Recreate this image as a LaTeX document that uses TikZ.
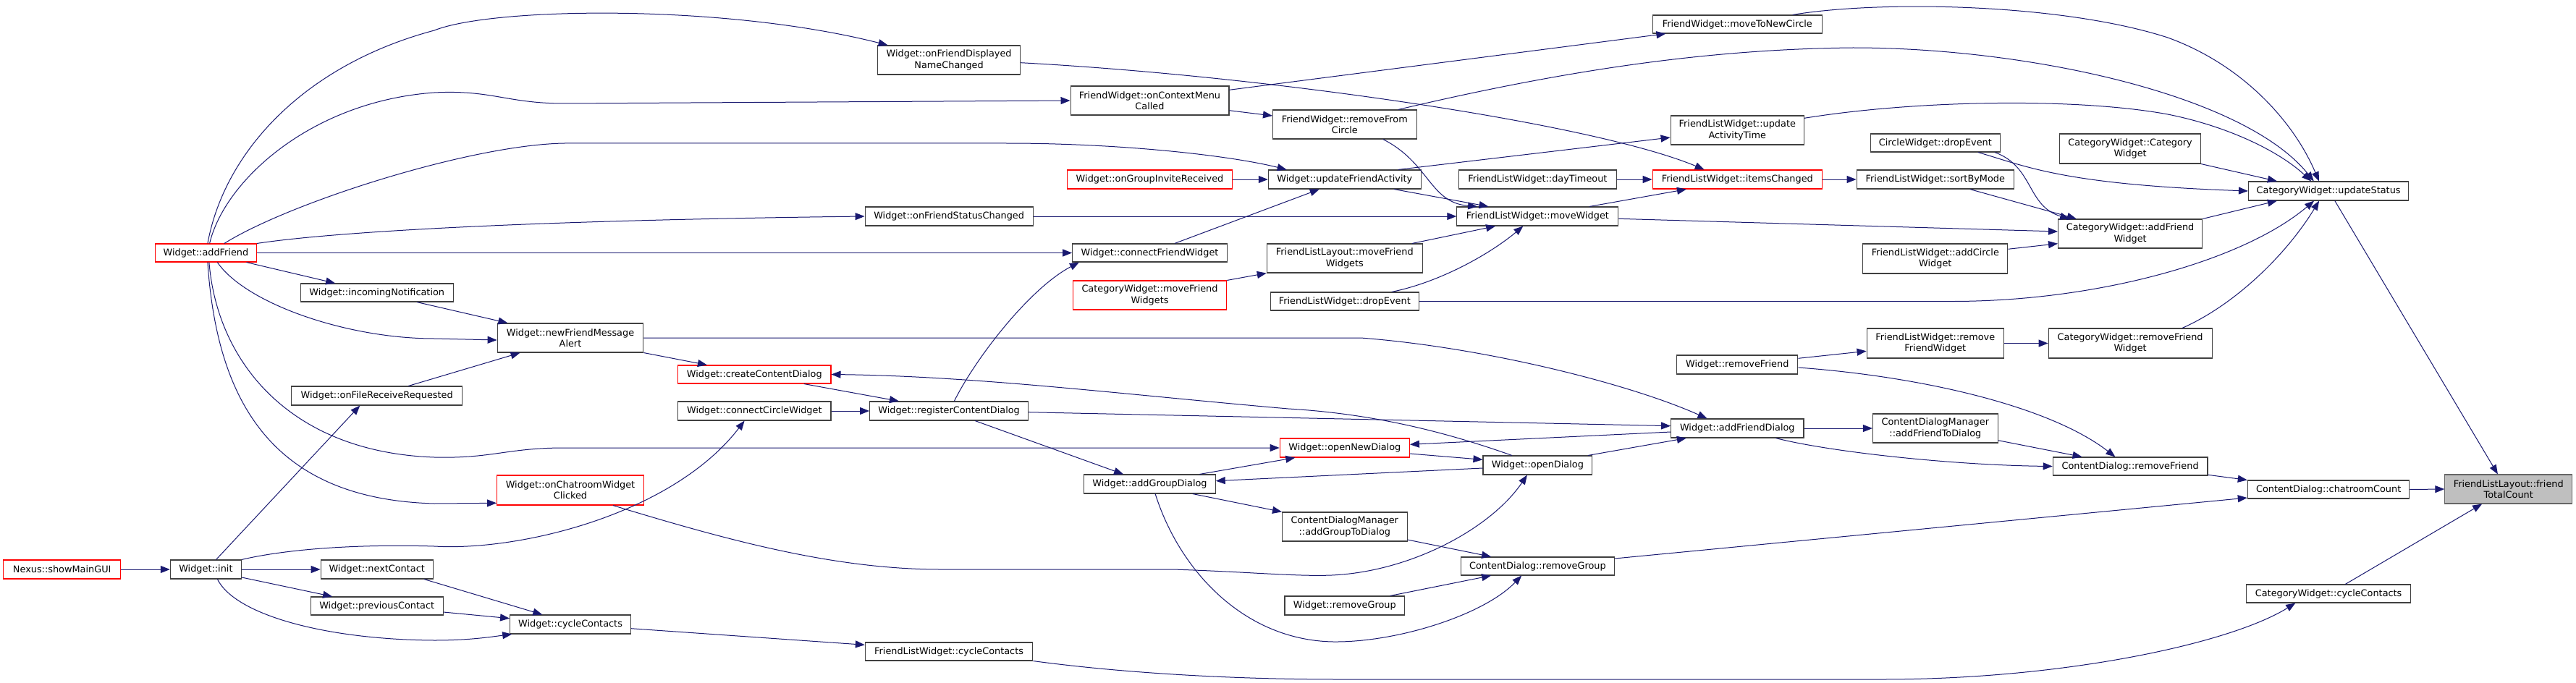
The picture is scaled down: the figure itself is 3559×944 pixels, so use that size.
\documentclass[tikz,border=0pt]{standalone}
\usepackage{fontspec}
\setmainfont{DejaVu Sans}
\usetikzlibrary{arrows.meta}
\definecolor{edgeblue}{HTML}{191970}
\definecolor{boxgray}{HTML}{404040}
\definecolor{rootborder}{HTML}{666666}
\definecolor{rootfill}{HTML}{BFBFBF}
\newcommand\nodefont{\fontsize{12.85pt}{15.3pt}\selectfont}
\begin{document}
\begin{tikzpicture}[x=1pt,y=-1pt,
  nd/.style 2 args={draw=boxgray, line width=1.1pt, fill=white, rectangle, minimum width=#1pt, minimum height=#2pt, inner sep=0pt, align=center, font=\nodefont, text=black},
  hot/.style={draw=red},
  root/.style={draw=rootborder, fill=rootfill},
  e/.style={draw=edgeblue, line width=1pt, -{Triangle[length=13pt,width=10pt]}}]
\fill[white] (0,0) rectangle (3559,944);
\useasboundingbox (0,0) rectangle (3559,944);

% ---- nodes ----
\node[nd={162.2}{26},hot] (smg) at (85.7,787) {Nexus::showMainGUI};
\node[nd={98}{26}] (init) at (284.4,787) {Widget::init};
\node[nd={140.4}{25},hot] (af) at (284.4,349.5) {Widget::addFriend};
\node[nd={210.8}{25}] (inc) at (520.7,404.5) {Widget::incomingNotification};
\node[nd={236.4}{26}] (ofr) at (520.7,547) {Widget::onFileReceiveRequested};
\node[nd={155}{26}] (nc) at (520.7,787) {Widget::nextContact};
\node[nd={182.9}{25}] (pc) at (520.7,837.5) {Widget::previousContact};
\node[nd={201.7}{40}] (nfm) at (788,467) {Widget::newFriendMessage\\Alert};
\node[nd={202.8}{41},hot] (ocw) at (788,677.5) {Widget::onChatroomWidget\\Clicked};
\node[nd={166.8}{26}] (wcc) at (788,863) {Widget::cycleContacts};
\node[nd={211.3}{25},hot] (ccd) at (1042.3,517.5) {Widget::createContentDialog};
\node[nd={211.3}{26}] (ccw) at (1042.3,568) {Widget::connectCircleWidget};
\node[nd={232}{26}] (ofs) at (1311.1,299) {Widget::onFriendStatusChanged};
\node[nd={197.4}{40}] (ofd) at (1311.1,83) {Widget::onFriendDisplayed\\NameChanged};
\node[nd={218.9}{26}] (rcd) at (1311.1,568) {Widget::registerContentDialog};
\node[nd={231.5}{25}] (flc) at (1311.1,900.5) {FriendListWidget::cycleContacts};
\node[nd={218.9}{40}] (ocm) at (1588.5,139) {FriendWidget::onContextMenu\\Called};
\node[nd={228.4}{26},hot] (ogi) at (1588.5,248) {Widget::onGroupInviteReceived};
\node[nd={213.6}{25}] (cfw) at (1588.5,349.5) {Widget::connectFriendWidget};
\node[nd={212.4}{40},hot] (cmf) at (1588.5,408) {CategoryWidget::moveFriend\\Widgets};
\node[nd={181.4}{26}] (agd) at (1588.5,669) {Widget::addGroupDialog};
\node[nd={198.6}{40}] (rfc) at (1857.8,172) {FriendWidget::removeFrom\\Circle};
\node[nd={210.9}{26}] (ufa) at (1857.8,248) {Widget::updateFriendActivity};
\node[nd={215}{40}] (lmf) at (1857.8,357) {FriendListLayout::moveFriend\\Widgets};
\node[nd={205.5}{25}] (lde) at (1857.8,416.5) {FriendListWidget::dropEvent};
\node[nd={179.1}{26},hot] (ond) at (1857.8,619) {Widget::openNewDialog};
\node[nd={172.6}{40}] (agt) at (1857.8,728) {ContentDialogManager\\::addGroupToDialog};
\node[nd={165.7}{26}] (wrg) at (1857.8,837) {Widget::removeGroup};
\node[nd={217.8}{26}] (dto) at (2124.4,248) {FriendListWidget::dayTimeout};
\node[nd={223}{26}] (mw) at (2124.4,299) {FriendListWidget::moveWidget};
\node[nd={150.8}{26}] (od) at (2124.4,643) {Widget::openDialog};
\node[nd={212}{25}] (crg) at (2124.4,782.5) {ContentDialog::removeGroup};
\node[nd={233.8}{25}] (mtn) at (2400.3,33.5) {FriendWidget::moveToNewCircle};
\node[nd={184.4}{40}] (uat) at (2400.3,180) {FriendListWidget::update\\ActivityTime};
\node[nd={234.2}{26},hot] (ic) at (2400.3,248) {FriendListWidget::itemsChanged};
\node[nd={167.2}{26}] (wrf) at (2400.3,504) {Widget::removeFriend};
\node[nd={183.3}{26}] (afd) at (2400.3,592) {Widget::addFriendDialog};
\node[nd={178.7}{25}] (cde) at (2673.8,197.5) {CircleWidget::dropEvent};
\node[nd={217.4}{26}] (sbm) at (2673.8,248) {FriendListWidget::sortByMode};
\node[nd={200.2}{41}] (acw) at (2673.8,357.5) {FriendListWidget::addCircle\\Widget};
\node[nd={189.4}{41}] (lrf) at (2673.8,474.5) {FriendListWidget::remove\\FriendWidget};
\node[nd={172.6}{40}] (aft) at (2673.8,592) {ContentDialogManager\\::addFriendToDialog};
\node[nd={194.6}{41}] (cwc) at (2943.1,205.5) {CategoryWidget::Category\\Widget};
\node[nd={199.1}{40}] (caf) at (2943.1,323) {CategoryWidget::addFriend\\Widget};
\node[nd={225.9}{41}] (crf) at (2943.1,474.5) {CategoryWidget::removeFriend\\Widget};
\node[nd={213.7}{25}] (cdf) at (2943.1,644.5) {ContentDialog::removeFriend};
\node[nd={221.3}{26}] (us) at (3217.1,264) {CategoryWidget::updateStatus};
\node[nd={223.6}{25}] (crc) at (3217.1,676.5) {ContentDialog::chatroomCount};
\node[nd={227.1}{25}] (ccy) at (3217.1,820.5) {CategoryWidget::cycleContacts};
\node[nd={175.7}{40},root] (ftc) at (3465.7,676) {FriendListLayout::friend\\TotalCount};

% ---- edges ----
\draw[e] (smg.east) -- (init.west);
\draw[e] ([xshift=14.2pt]init.north) -- ([xshift=-23.4pt]ofr.south);
\draw[e] (init.east) -- (nc.west);
\draw[e] ([yshift=-11pt]init.east) -- ([xshift=-61.6pt]pc.north);
\draw[e] ([xshift=16pt]init.south) .. controls (325,850) and (450,884) .. (600,885) .. controls (650,885) and (680,880) .. ([xshift=-80.8pt]wcc.south);
\draw[e] (init.north east) .. controls (400,758) and (500,752) .. (600,755) .. controls (720,762) and (930,710) .. ([xshift=-13.7pt]ccw.south);
\draw[e] ([xshift=2.5pt]af.north) .. controls (310,210) and (420,90) .. (600,42) .. controls (680,10) and (1000,5) .. ([xshift=-84.5pt]ofd.north);
\draw[e] ([xshift=5.2pt]af.north) .. controls (310,250) and (430,140) .. (600,128) .. controls (680,124) and (700,143) .. (780,143) -- (ocm.west);
\draw[e] ([xshift=25.5pt]af.north) .. controls (400,280) and (650,200) .. (780,198) -- (1390,198) .. controls (1550,198) and (1700,215) .. ([xshift=-80.2pt]ufa.north);
\draw[e] (af.north east) .. controls (450,322) and (700,305) .. (ofs.west);
\draw[e] (af.east) -- (cfw.west);
\draw[e] ([xshift=56.1pt]af.south) -- ([xshift=-57.6pt]inc.north);
\draw[e] ([xshift=15.9pt]af.south) .. controls (340,420) and (480,468) .. (600,468) -- ([yshift=-3pt]nfm.west);
\draw[e] ([xshift=2.5pt]af.south) .. controls (300,560) and (380,690) .. (600,696) -- ([yshift=-17.8pt]ocw.west);
\draw[e] ([xshift=4.5pt]af.south) .. controls (300,500) and (400,625) .. (600,632) .. controls (680,634) and (700,619) .. (780,619) -- (ond.west);
\draw[e] ([xshift=65.3pt]nc.south) -- ([xshift=-38.7pt]wcc.north);
\draw[e] ([yshift=-8.5pt]pc.east) -- ([yshift=8.3pt]wcc.west);
\draw[e] ([yshift=-5.7pt]wcc.east) -- ([yshift=9.2pt]flc.west);
\draw[e] ([xshift=55.3pt]inc.south) -- ([xshift=-86.6pt]nfm.north);
\draw[e] ([xshift=43.6pt]ofr.north) -- ([xshift=-69.4pt]nfm.south);
\draw[e] (nfm.south east) -- ([xshift=-65.4pt]ccd.north);
\draw[e] (nfm.east) -- (1880,467) .. controls (2050,480) and (2250,530) .. ([xshift=-41.8pt]afd.north);
\draw[e] ([xshift=68.5pt]ccd.south) -- ([xshift=-69.2pt]rcd.north);
\draw[e] (ccw.east) -- (rcd.west);
\draw[e] ([xshift=7.3pt]rcd.north) .. controls (1345,500) and (1420,400) .. ([xshift=-97.6pt]cfw.south);
\draw[e] ([yshift=-1.7pt]rcd.east) -- ([yshift=3.3pt]afd.west);
\draw[e] ([xshift=36pt]rcd.south) -- ([xshift=-36.4pt]agd.north);
\draw[e] ([xshift=34.4pt]cfw.north) -- ([xshift=-35pt]ufa.south);
\draw[e] (ogi.east) -- (ufa.west);
\draw[e] ([yshift=-13.7pt]ocm.east) -- ([yshift=12pt]rfc.west);
\draw[e] ([yshift=14.7pt]ocm.east) -- ([xshift=-98.9pt]mtn.south);
\draw[e] ([yshift=-3.7pt]ofd.east) .. controls (1750,105) and (2200,170) .. ([xshift=-45.6pt]ic.north);
\draw[e] ([xshift=53pt]rfc.south) .. controls (1975,225) and (1975,280) .. ([xshift=-83.3pt]mw.north);
\draw[e] ([xshift=68.3pt]ufa.south) -- ([xshift=-67.9pt]mw.north);
\draw[e] ([xshift=74pt]ufa.north) -- ([yshift=-10pt]uat.west);
\draw[e] (ofs.east) -- (mw.west);
\draw[e] ([xshift=93.3pt]lmf.north) -- ([xshift=-58.3pt]mw.south);
\draw[e] ([xshift=64.8pt]lde.north) .. controls (1990,390) and (2060,350) .. ([xshift=-20.1pt]mw.south);
\draw[e] (cmf.north east) -- (lmf.south west);
\draw[e] (lde.east) -- (2700,416.5) .. controls (2900,416) and (3100,360) .. ([xshift=-20pt]us.south);
\draw[e] ([xshift=71.7pt]mw.north) -- ([xshift=-70.4pt]ic.south);
\draw[e] ([yshift=-3.3pt]mw.east) -- ([yshift=3pt]caf.west);
\draw[e] (dto.east) -- (ic.west);
\draw[e] (ic.east) -- (sbm.west);
\draw[e] ([xshift=47.8pt]sbm.south) -- ([xshift=-74.3pt]caf.north);
\draw[e] ([xshift=82.1pt]cde.south) .. controls (2810,230) and (2800,285) .. ([xshift=-84pt]caf.north);
\draw[e] ([xshift=59.1pt]cde.south) .. controls (2800,230) and (2850,255) .. (us.west);
\draw[e] ([yshift=13.2pt]acw.east) -- ([yshift=-13.7pt]caf.west);
\draw[e] (cwc.south east) -- ([xshift=-71.2pt]us.north);
\draw[e] (caf.north east) -- ([xshift=-71.2pt]us.south);
\draw[e] ([xshift=71.9pt]crf.north) .. controls (3090,420) and (3160,350) .. ([xshift=-13pt]us.south);
\draw[e] ([xshift=76.3pt]mtn.north) .. controls (2600,0) and (2850,5) .. (2995,52) .. controls (3100,90) and (3170,170) .. ([xshift=-13.2pt]us.north);
\draw[e] ([xshift=74pt]rfc.north) .. controls (2150,100) and (2350,68) .. (2560,66) .. controls (2800,66) and (3100,130) .. ([xshift=-20.4pt]us.north);
\draw[e] ([yshift=16.7pt]uat.east) .. controls (2650,138) and (2870,135) .. (2995,158) .. controls (3080,175) and (3150,210) .. ([xshift=-24pt]us.north);
\draw[e] ([xshift=8.7pt]us.south) -- ([xshift=-14.8pt]ftc.north);
\draw[e] (crc.east) -- (ftc.west);
\draw[e] ([xshift=23.2pt]ccy.north) -- ([xshift=-36.6pt]ftc.south);
\draw[e] ([yshift=-11.8pt]cdf.east) -- (crc.north west);
\draw[e] ([yshift=10.5pt]crg.east) -- ([yshift=-11.5pt]crc.west);
\draw[e] (flc.south east) .. controls (1550,930) and (1700,939) .. (1850,939) -- (2600,939) .. controls (2850,939) and (3080,890) .. ([xshift=-45.8pt]ccy.south);
\draw[e] ([yshift=-4pt]wrf.east) .. controls (2650,520) and (2830,560) .. ([xshift=-20.7pt]cdf.north);
\draw[e] ([yshift=8.7pt]wrf.east) -- ([yshift=-10.8pt]lrf.west);
\draw[e] (lrf.east) -- (crf.west);
\draw[e] ([xshift=53.1pt]afd.south) .. controls (2530,625) and (2700,643) .. (cdf.west);
\draw[e] ([yshift=-16.7pt]aft.east) -- ([xshift=-66.6pt]cdf.north);
\draw[e] (afd.east) -- (aft.west);
\draw[e] ([xshift=69.6pt]od.north) -- ([xshift=-70.5pt]afd.south);
\draw[e] ([yshift=-5pt]afd.west) -- ([yshift=4.7pt]ond.east);
\draw[e] ([yshift=-8pt]ond.east) -- ([yshift=7.7pt]od.west);
\draw[e] ([xshift=-35.6pt]od.north) .. controls (2000,598) and (1900,572) .. (1780,565) .. controls (1550,545) and (1350,520) .. (ccd.east);
\draw[e] ([yshift=-4pt]od.west) -- ([yshift=4.3pt]agd.east);
\draw[e] ([xshift=68.9pt]agd.north) -- ([xshift=-68.5pt]ond.south);
\draw[e] ([xshift=59.3pt]agd.south) -- (agt.north west);
\draw[e] ([xshift=7.6pt]agd.south) .. controls (1630,790) and (1720,885) .. (1842,887) .. controls (1930,888) and (2050,850) .. ([xshift=-22.2pt]crg.south);
\draw[e] ([yshift=-18pt]agt.east) -- ([xshift=-64.3pt]crg.north);
\draw[e] ([xshift=62.9pt]wrg.north) -- ([xshift=-64.3pt]crg.south);
\draw[e] ([xshift=58.9pt]ocw.south) .. controls (1000,745) and (1150,787) .. (1300,787) -- (1620,787) .. controls (1720,790) and (1790,797) .. (1840,795) .. controls (1950,790) and (2060,730) .. ([xshift=-14.5pt]od.south);
\end{tikzpicture}
\end{document}
